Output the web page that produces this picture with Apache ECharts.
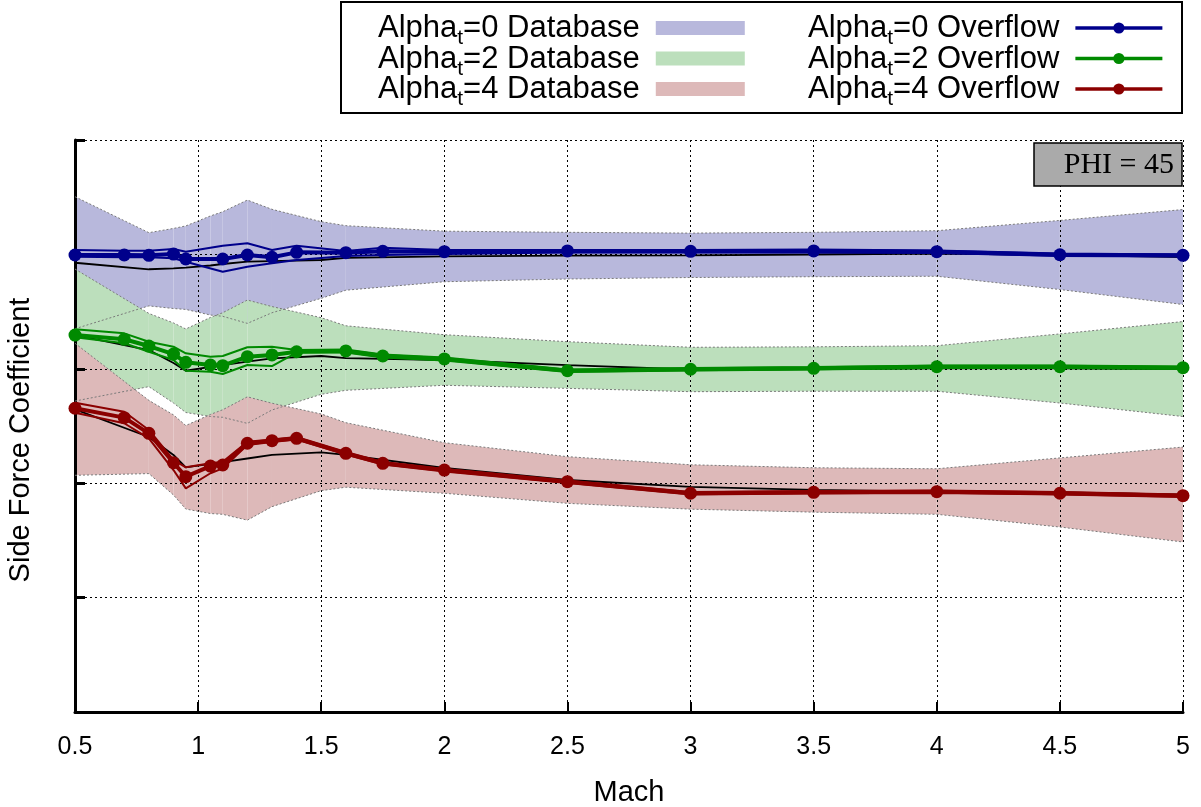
<!DOCTYPE html>
<html>
<head>
    <meta charset="utf-8">
    <title>Side Force Coefficient</title>
    <script src="https://cdn.jsdelivr.net/npm/echarts@6/dist/echarts.min.js"></script>
</head>
<style>
    html, body { margin: 0; padding: 0; background: #fff; }
    #chartmain { width: 1201px; height: 807px; }
</style>
<body>
    <div id="chartmain"></div>
</body>
<script type="text/javascript">
    // x axis ticks (Mach)
    var machTicks = [0.5, 1, 1.5, 2, 2.5, 3, 3.5, 4, 4.5, 5];
    var yTicks = [0, 1, 2, 3, 4, 5];

    // database points
    var machDb = [0.5, 0.8, 0.9, 0.95, 1.05, 1.1, 1.2, 1.3, 1.5, 1.6, 2, 2.5, 3, 3.5, 4, 4.5, 5];
    var db0Mean = [3.927, 3.870, 3.877, 3.884, 3.903, 3.916, 3.936, 3.942, 3.951, 3.969, 3.982, 3.989, 3.992, 3.999, 4.008, 3.995, 3.977];
    var db0Up   = [4.504, 4.190, 4.227, 4.249, 4.336, 4.373, 4.475, 4.394, 4.286, 4.251, 4.203, 4.193, 4.186, 4.193, 4.207, 4.297, 4.392];
    var db0Low  = [3.350, 3.550, 3.527, 3.519, 3.470, 3.459, 3.397, 3.490, 3.616, 3.687, 3.761, 3.785, 3.798, 3.805, 3.809, 3.693, 3.562];
    var db2Mean = [3.295, 3.164, 3.051, 2.983, 3.016, 3.033, 3.062, 3.092, 3.112, 3.094, 3.077, 3.033, 2.994, 2.998, 3.003, 3.003, 2.998];
    var db2Up   = [3.872, 3.484, 3.401, 3.348, 3.449, 3.490, 3.601, 3.544, 3.447, 3.376, 3.298, 3.237, 3.188, 3.192, 3.202, 3.305, 3.413];
    var db2Low  = [2.718, 2.844, 2.701, 2.618, 2.583, 2.576, 2.523, 2.640, 2.777, 2.812, 2.856, 2.829, 2.800, 2.804, 2.804, 2.701, 2.583];
    var db4Mean = [2.646, 2.404, 2.247, 2.139, 2.168, 2.185, 2.216, 2.247, 2.270, 2.247, 2.133, 2.028, 1.967, 1.941, 1.927, 1.919, 1.901];
    var db4Up   = [3.223, 2.724, 2.597, 2.504, 2.601, 2.642, 2.755, 2.699, 2.605, 2.529, 2.354, 2.232, 2.161, 2.135, 2.126, 2.221, 2.316];
    var db4Low  = [2.069, 2.084, 1.897, 1.774, 1.735, 1.728, 1.677, 1.795, 1.935, 1.965, 1.912, 1.824, 1.773, 1.747, 1.728, 1.617, 1.486];

    // overflow points
    var machOf0 = [0.5, 0.7, 0.8, 0.9, 0.95, 1.1, 1.2, 1.3, 1.4, 1.6, 1.75, 2, 2.5, 3, 3.5, 4, 4.5, 5];
    var of0   = [3.995, 3.995, 3.992, 4.003, 3.960, 3.960, 3.995, 3.975, 4.018, 4.015, 4.027, 4.024, 4.030, 4.027, 4.030, 4.024, 3.997, 3.992];
    var of0Hi = [4.038, 4.032, 4.032, 4.047, 4.024, 4.076, 4.097, 4.038, 4.076, 4.030, 4.059, 4.038, 4.038, 4.038, 4.043, 4.034, 4.008, 3.999];
    var of0Lo = [3.980, 3.975, 3.975, 3.966, 3.936, 3.849, 3.892, 3.922, 3.951, 3.986, 3.995, 4.003, 4.017, 4.017, 4.017, 4.012, 3.986, 3.982];

    var machOf = [0.5, 0.7, 0.8, 0.9, 0.95, 1.05, 1.1, 1.2, 1.3, 1.4, 1.6, 1.75, 2, 2.5, 3, 3.5, 4, 4.5, 5];
    var of2   = [3.295, 3.258, 3.199, 3.129, 3.057, 3.033, 3.027, 3.106, 3.121, 3.149, 3.156, 3.112, 3.086, 2.983, 2.996, 3.004, 3.018, 3.018, 3.010];
    var of2Hi = [3.345, 3.310, 3.237, 3.193, 3.135, 3.106, 3.112, 3.188, 3.193, 3.164, 3.169, 3.125, 3.099, 2.994, 3.007, 3.016, 3.029, 3.029, 3.020];
    var of2Lo = [3.275, 3.223, 3.149, 3.077, 2.983, 2.975, 2.955, 3.033, 3.024, 3.142, 3.142, 3.099, 3.073, 2.972, 2.985, 2.994, 3.007, 3.007, 2.998];
    var of4   = [2.655, 2.573, 2.436, 2.179, 2.057, 2.150, 2.159, 2.349, 2.372, 2.392, 2.261, 2.174, 2.115, 2.013, 1.912, 1.920, 1.926, 1.912, 1.891];
    var of4Hi = [2.704, 2.625, 2.465, 2.203, 2.139, 2.174, 2.188, 2.363, 2.382, 2.404, 2.273, 2.185, 2.124, 2.024, 1.923, 1.932, 1.936, 1.923, 1.901];
    var of4Lo = [2.616, 2.524, 2.392, 2.115, 1.955, 2.087, 2.130, 2.334, 2.360, 2.382, 2.251, 2.163, 2.102, 2.002, 1.901, 1.910, 1.914, 1.901, 1.879];

    var FONT = '"Liberation Sans", Arial, sans-serif';

    function pairs(xs, ys) {
        return xs.map(function (x, i) { return [x, ys[i]]; });
    }

    var bands = [
        { name: 'Alpha_t=0 Database', up: db0Up, low: db0Low, mean: db0Mean, fill: '#b8b8dc' },
        { name: 'Alpha_t=2 Database', up: db2Up, low: db2Low, mean: db2Mean, fill: '#bcdfbc' },
        { name: 'Alpha_t=4 Database', up: db4Up, low: db4Low, mean: db4Mean, fill: '#ddb9b9' }
    ];
    var overflows = [
        { name: 'Alpha_t=0 Overflow', x: machOf0, y: of0, hi: of0Hi, lo: of0Lo, color: '#00008b' },
        { name: 'Alpha_t=2 Overflow', x: machOf, y: of2, hi: of2Hi, lo: of2Lo, color: '#008a00' },
        { name: 'Alpha_t=4 Overflow', x: machOf, y: of4, hi: of4Hi, lo: of4Lo, color: '#8b0000' }
    ];

    var series = [];
    // filled bands, one quad per database interval
    bands.forEach(function (b) {
        series.push({
            type: 'custom', name: b.name, silent: true, z: 1,
            itemStyle: { color: b.fill },
            data: machDb.map(function (x, i) { return [x, b.low[i], b.up[i]]; }),
            encode: { x: 0, y: [1, 2] },
            renderItem: function (params, api) {
                var i = params.dataIndex;
                if (i >= machDb.length - 1) return;
                var pts = [
                    api.coord([machDb[i], b.up[i]]),
                    api.coord([machDb[i + 1], b.up[i + 1]]),
                    api.coord([machDb[i + 1], b.low[i + 1]]),
                    api.coord([machDb[i], b.low[i]])
                ];
                return { type: 'polygon', shape: { points: pts }, style: { fill: b.fill } };
            }
        });
    });
    // band edges
    bands.forEach(function (b) {
        [b.up, b.low].forEach(function (arr) {
            series.push({
                type: 'line', data: pairs(machDb, arr), symbol: 'none', silent: true, z: 3,
                lineStyle: { color: '#7a7a7a', width: 1, type: [2, 2] }
            });
        });
    });
    // database mean
    bands.forEach(function (b) {
        series.push({
            type: 'line', data: pairs(machDb, b.mean), symbol: 'none', silent: true, z: 3,
            lineStyle: { color: '#000', width: 1.8 }
        });
    });
    // overflow thin envelopes + main lines
    overflows.forEach(function (o) {
        [o.hi, o.lo].forEach(function (arr) {
            series.push({
                type: 'line', data: pairs(o.x, arr), symbol: 'none', silent: true, z: 4,
                lineStyle: { color: o.color, width: 2 }
            });
        });
    });
    overflows.forEach(function (o) {
        series.push({
            type: 'line', name: o.name, data: pairs(o.x, o.y), symbol: 'circle', symbolSize: 13,
            itemStyle: { color: o.color }, lineStyle: { color: o.color, width: 4 }, z: 5
        });
    });

    var rich = {
        a: { fontSize: 31, fontFamily: FONT, color: '#000', lineHeight: 30, verticalAlign: 'top' },
        s: { fontSize: 21, fontFamily: FONT, color: '#000', lineHeight: 10, padding: [15, 0, 0, 0], verticalAlign: 'top' },
        b: { fontSize: 31, fontFamily: FONT, color: '#000', lineHeight: 30, verticalAlign: 'top', padding: [0, 11, 0, 0] }
    };
    function legendText(name) {
        var p = name.split('_t');
        return '{a|' + p[0] + '}{s|t}{b|' + p[1] + '}';
    }

    var myChart = echarts.init(document.getElementById('chartmain'));
    myChart.setOption({
        animation: false,
        backgroundColor: '#fff',
        grid: { left: 75, right: 18, top: 140, bottom: 95, outerBoundsMode: 'none' },
        legend: [{
            data: bands.map(function (b) { return { name: b.name, icon: 'rect' }; }),
            orient: 'vertical', left: 373, top: 8, align: 'right',
            itemWidth: 89, itemHeight: 14, itemGap: -5.5, selectedMode: false,
            formatter: legendText, textStyle: { rich: rich }
        }, {
            data: overflows.map(function (o) { return o.name; }),
            orient: 'vertical', left: 803, top: 8, align: 'right',
            itemWidth: 87, itemHeight: 14, itemGap: -5.5, selectedMode: false,
            lineStyle: { width: 3.5 },
            formatter: legendText, textStyle: { rich: rich }
        }],
        graphic: [{
            type: 'rect', shape: { x: 341, y: 2, width: 841, height: 111 },
            style: { fill: 'none', stroke: '#000', lineWidth: 2 }, z: 10
        }, {
            type: 'rect', shape: { x: 1034, y: 143, width: 148, height: 43 },
            style: { fill: '#aaaaaa', stroke: '#000', lineWidth: 1.5 }, z: 10
        }, {
            type: 'text', x: 1174, y: 165, z: 11,
            style: { text: 'PHI = 45', fill: '#000', font: '30px "Liberation Serif", "Times New Roman", serif', align: 'right', verticalAlign: 'middle' }
        }],
        xAxis: {
            type: 'value', z: 2,
            min: machTicks[0], max: machTicks[machTicks.length - 1], interval: machTicks[1] - machTicks[0],
            name: 'Mach', nameLocation: 'middle', nameGap: 66,
            nameTextStyle: { fontSize: 29, fontFamily: FONT, color: '#000' },
            axisLine: { lineStyle: { color: '#000', width: 3 } },
            axisTick: { inside: true, length: 10, lineStyle: { color: '#000', width: 2 } },
            axisLabel: { fontSize: 25, fontFamily: FONT, color: '#000', margin: 23 },
            splitLine: { show: true, lineStyle: { color: '#000', width: 1, type: [2, 3] } }
        },
        yAxis: {
            type: 'value', z: 2,
            min: yTicks[0], max: yTicks[yTicks.length - 1], interval: yTicks[1] - yTicks[0],
            name: 'Side Force Coefficient', nameLocation: 'middle', nameGap: 40,
            nameTextStyle: { fontSize: 29, fontFamily: FONT, color: '#000', padding: [0, 28, 0, 0] },
            axisLine: { show: true, lineStyle: { color: '#000', width: 3 } },
            axisTick: { show: true, inside: true, length: 10, lineStyle: { color: '#000', width: 3 } },
            axisLabel: { show: false },
            splitLine: { show: true, lineStyle: { color: '#000', width: 1, type: [2, 3] } }
        },
        series: series
    });
</script>
</html>
